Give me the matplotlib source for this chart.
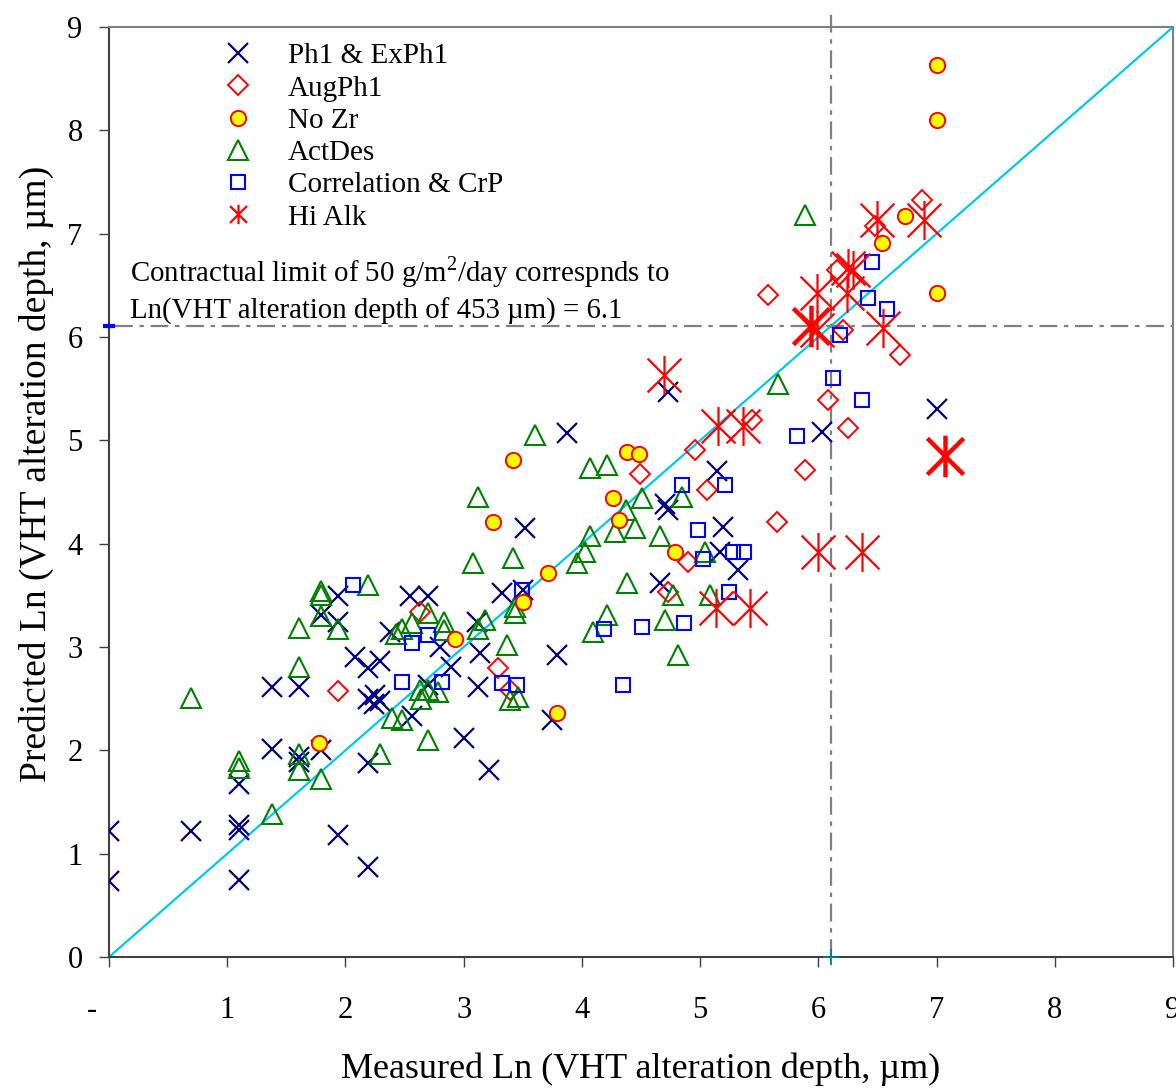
import numpy as np
import matplotlib
matplotlib.use("Agg")
import matplotlib.pyplot as plt
import matplotlib.transforms as mtransforms
from matplotlib.path import Path
from matplotlib.lines import Line2D

plt.rcParams['font.family'] = ['Liberation Serif', 'DejaVu Serif']
plt.rcParams['mathtext.fontset'] = 'custom'
plt.rcParams['mathtext.rm'] = 'Liberation Serif'

# データ (測定値 x, 予測値 y)
ph1_x = [0.0, 0.0, 0.69, 1.1, 1.1, 1.1, 1.1, 1.38, 1.38, 1.61, 1.61, 1.61, 1.79, 1.94, 1.94, 1.79,
         2.08, 2.19, 2.29, 2.19, 2.25, 2.29, 2.24, 2.19, 1.94, 2.19, 2.38, 2.56, 2.55, 2.7, 2.8, 2.89,
         2.7, 3.0, 3.21, 3.11, 3.14, 3.12, 3.32, 3.5, 3.79, 3.75, 3.52, 3.87, 4.73, 5.14, 4.7, 4.73,
         5.19, 5.17, 5.32, 4.66, 6.03, 7.0]
ph1_y = [1.22, 0.74, 1.22, 1.28, 1.23, 0.75, 1.67, 2.61, 2.01, 2.61, 1.94, 1.89, 2.0, 3.49, 3.24, 3.31,
         2.9, 2.8, 2.86, 2.5, 2.54, 2.48, 2.45, 1.88, 1.18, 0.87, 3.15, 2.33, 3.49, 3.49, 3.0, 2.81,
         2.63, 2.12, 1.81, 3.24, 2.94, 2.61, 3.52, 3.55, 2.92, 2.29, 4.15, 5.07, 5.47, 4.7, 4.38, 4.33,
         4.16, 3.92, 3.75, 3.62, 5.08, 5.3]

aug_x = [1.94, 2.63, 3.29, 3.39, 4.49, 4.96, 5.06, 5.44, 5.89, 6.08, 6.25, 5.65, 4.9, 4.73, 5.57,
         6.69, 6.21, 6.16, 6.48, 6.88]
aug_y = [2.57, 3.34, 2.8, 2.58, 4.67, 4.91, 4.52, 5.2, 4.71, 5.39, 5.12, 4.21, 3.82, 3.53, 6.41,
         5.83, 6.07, 6.65, 7.07, 7.33]

nozr_x = [1.78, 2.93, 3.42, 3.25, 3.71, 3.5, 3.79, 4.38, 4.48, 4.26, 4.31, 4.79, 7.0, 7.0, 7.0, 6.73, 6.54]
nozr_y = [2.07, 3.08, 4.81, 4.21, 3.72, 3.44, 2.36, 4.89, 4.87, 4.44, 4.23, 3.92, 8.63, 8.1, 6.43, 7.17, 6.91]

act_x = [0.69, 1.1, 1.1, 1.38, 1.61, 1.61, 1.61, 1.61, 1.79, 1.79, 1.79, 1.79, 1.94, 2.19, 2.29, 2.39,
         2.48, 2.43, 2.7, 2.48, 2.56, 2.7, 2.83, 2.83, 2.63, 2.64, 2.7, 2.78, 3.12, 3.18, 3.08, 3.12,
         3.37, 3.42, 3.43, 3.43, 3.39, 3.46, 3.6, 4.07, 4.21, 3.96, 4.03, 4.07, 4.09, 4.51, 4.37, 4.85,
         4.28, 4.45, 4.66, 5.04, 4.38, 4.77, 5.08, 4.21, 4.7, 4.81, 5.66, 5.89]
act_y = [2.51, 1.9, 1.83, 1.38, 2.81, 3.18, 1.96, 1.81, 1.72, 3.54, 3.5, 3.3, 3.17, 3.6, 1.96, 2.31,
         2.29, 3.13, 2.1, 3.17, 3.23, 3.33, 3.24, 3.16, 2.58, 2.5, 2.58, 2.56, 3.17, 3.26, 3.81, 4.45,
         3.02, 3.86, 3.39, 3.33, 2.49, 2.52, 5.05, 4.73, 4.76, 3.81, 3.92, 4.07, 3.15, 4.44, 4.33, 4.45,
         4.11, 4.15, 4.07, 3.92, 3.62, 3.5, 3.5, 3.31, 3.26, 2.92, 5.55, 7.18]

corr_x = [2.06, 2.56, 2.7, 2.48, 2.82, 3.32, 3.45, 3.49, 4.19, 4.85, 5.21, 4.98, 5.02, 5.28, 5.37,
          5.24, 4.51, 4.86, 4.35, 6.12, 5.82, 6.37, 6.18, 6.58, 6.42, 6.45]
corr_y = [3.6, 3.04, 3.12, 2.66, 2.66, 2.65, 2.63, 3.55, 3.17, 4.57, 4.57, 4.13, 3.85, 3.92, 3.92,
          3.53, 3.19, 3.23, 2.63, 5.6, 5.04, 5.39, 6.02, 6.27, 6.38, 6.73]

alk_x = [4.69, 5.15, 5.36, 5.13, 5.42, 6.0, 6.37, 5.99, 6.25, 6.29, 6.24, 6.5, 6.89, 6.55, 5.99]
alk_y = [5.63, 5.14, 5.14, 3.38, 3.38, 3.92, 3.92, 6.43, 6.67, 6.65, 6.43, 7.13, 7.13, 6.09, 6.07]
alk_bold_x = [7.07, 5.94]
alk_bold_y = [4.85, 6.11]

limit = 6.11  # Ln(453)
x_ticklabels = ['-', '1', '2', '3', '4', '5', '6', '7', '8', '9']

# Excel風のアスタリスク (X + 縦線)
star = Path([(-1, -1), (1, 1), (-1, 1), (1, -1), (0, -1.15), (0, 1.15)],
            [Path.MOVETO, Path.LINETO, Path.MOVETO, Path.LINETO, Path.MOVETO, Path.LINETO])

fig = plt.figure(figsize=(11.76, 10.89), dpi=100)
ax = fig.add_axes([0.0927, 0.1212, 0.9048, 0.8540])

ax.plot([0, 9], [0, 9], color='#00C8F0', lw=1.6, zorder=1)
ax.plot([0.05, 9], [limit, limit], color='#808080', lw=1.6, ls=(0, (8, 3, 2, 3)), zorder=1)
ax.plot([limit, limit], [0, 9.14], color='#808080', lw=1.6, ls=(0, (8, 3, 2, 3)), zorder=1, clip_on=False)
ax.plot([0], [limit], marker='_', color='blue', ms=9, mew=3, clip_on=False, zorder=5)
ax.plot([limit], [0], marker='+', color='teal', ms=11, mew=1.3, clip_on=False, zorder=5)

ax.plot(ph1_x, ph1_y, ls='none', marker='x', ms=15, mew=1.6, color='#000080', zorder=3)
ax.plot(aug_x, aug_y, ls='none', marker='D', ms=10, mew=1.4, mfc='none', mec='red', zorder=3)
ax.plot(nozr_x, nozr_y, ls='none', marker='o', ms=11, mew=1.4, mfc='yellow', mec='red', zorder=4)
ax.plot(act_x, act_y, ls='none', marker='^', ms=14, mew=1.5, mfc='none', mec='green', zorder=3)
ax.plot(corr_x, corr_y, ls='none', marker='s', ms=10.5, mew=1.5, mfc='none', mec='blue', zorder=3)
ax.plot(alk_x, alk_y, ls='none', marker=star, ms=28, mew=1.6, color='red', zorder=3)
ax.plot(alk_bold_x, alk_bold_y, ls='none', marker=star, ms=30, mew=3.2, color='red', zorder=3)

ax.set_xlim(0, 9)
ax.set_ylim(0, 9)
ax.set_xticks(range(10))
ax.set_xticklabels(x_ticklabels)
ax.set_yticks(range(10))
ax.tick_params(axis='x', direction='out', length=7, width=1, colors='#404040', labelcolor='black',
               labelsize=22, pad=21)
ax.tick_params(axis='y', direction='out', length=7, width=1, colors='#404040', labelcolor='black',
               labelsize=22, pad=12)
# "-" は目盛りの少し左に
lbl0 = ax.get_xticklabels()[0]
lbl0.set_transform(lbl0.get_transform() + mtransforms.ScaledTranslation(-0.17, 0, fig.dpi_scale_trans))

for s in ['left', 'bottom']:
    ax.spines[s].set_color('#404040')
for s in ['top', 'right']:
    ax.spines[s].set_color('#808080')
for s in ax.spines.values():
    s.set_linewidth(1.5)

ax.set_xlabel('Measured Ln (VHT alteration depth, µm)', fontsize=26, labelpad=20)
ax.set_ylabel('Predicted Ln (VHT alteration depth, µm)', fontsize=27)
ax.yaxis.set_label_coords(-0.052, 0.52)

ax.text(0.18, 6.63, 'Contractual limit of 50 g/m$^{2}$/day correspnds to', fontsize=20.8, va='center')
ax.text(0.18, 6.25, 'Ln(VHT alteration depth of 453 µm) = 6.1', fontsize=20.8, va='center')

handles = [
    Line2D([], [], ls='none', marker='x', ms=15, mew=1.6, color='#000080'),
    Line2D([], [], ls='none', marker='D', ms=10, mew=1.4, mfc='none', mec='red'),
    Line2D([], [], ls='none', marker='o', ms=11, mew=1.4, mfc='yellow', mec='red'),
    Line2D([], [], ls='none', marker='^', ms=14, mew=1.5, mfc='none', mec='green'),
    Line2D([], [], ls='none', marker='s', ms=10.5, mew=1.5, mfc='none', mec='blue'),
    Line2D([], [], ls='none', marker=star, ms=14, mew=1.6, color='red'),
]
labels = ['Ph1 & ExPh1', 'AugPh1', 'No Zr', 'ActDes', 'Correlation & CrP', 'Hi Alk']
ax.legend(handles, labels, loc='upper left', bbox_to_anchor=(0.072, 1.008), frameon=False,
          fontsize=21, handlelength=2.0, handletextpad=0.7, labelspacing=0.2, borderaxespad=0.4)

fig.savefig('out.png', dpi=100)
